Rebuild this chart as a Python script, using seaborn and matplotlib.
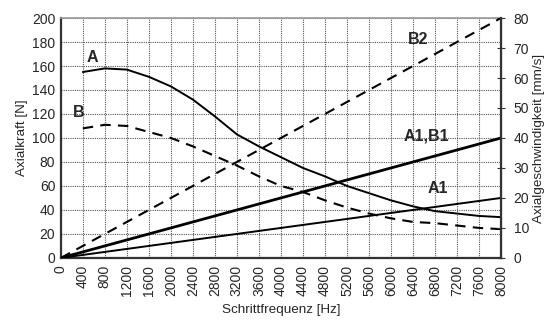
import matplotlib
matplotlib.use("Agg")
import matplotlib.pyplot as plt
import seaborn as sns
import numpy as np
import pandas as pd

sns.set_style("white")
plt.rcParams['font.family'] = ['Liberation Sans', 'DejaVu Sans']

# Daten
freq_ab = [400, 800, 1200, 1600, 2000, 2400, 2800, 3200, 3600, 4000,
           4400, 4800, 5200, 5600, 6000, 6400, 6800, 7200, 7600, 8000]
kraft_a = [155, 158, 157, 151, 143, 132, 118, 103, 93, 84,
           75, 68, 60, 54, 48, 43, 39, 37, 35, 34]
kraft_b = [108, 111, 110, 105, 100, 93, 85, 77, 68, 60,
           55, 48, 42, 37, 33, 30, 29, 27, 25, 24]
freq_lin = [0, 8000]
speed_a1b1 = [0, 40]
speed_a1 = [0, 20]
speed_b2 = [0, 80]

fig = plt.figure(figsize=(5.53, 3.22), dpi=100)
ax = fig.add_axes([0.110, 0.199, 0.796, 0.745])
ax2 = ax.twinx()

# Kraftkurven (linke Achse)
sns.lineplot(x=freq_ab, y=kraft_a, ax=ax, color="black", linewidth=1.4)
sns.lineplot(x=freq_ab, y=kraft_b, ax=ax, color="black", linewidth=1.5)
ax.lines[-1].set_dashes([5, 3.5])

# Geschwindigkeiten (rechte Achse)
sns.lineplot(x=freq_lin, y=speed_a1b1, ax=ax2, color="black", linewidth=2.0)
sns.lineplot(x=freq_lin, y=speed_a1, ax=ax2, color="black", linewidth=1.4)
sns.lineplot(x=freq_lin, y=speed_b2, ax=ax2, color="black", linewidth=1.5)
ax2.lines[-1].set_dashes([5, 3.5])

ax.set_xlim(0, 8000)
ax.set_ylim(0, 200)
ax2.set_ylim(0, 80)
ax.set_xticks(np.arange(0, 8001, 400))
ax.set_yticks(np.arange(0, 201, 20))
ax2.set_yticks(np.arange(0, 81, 10))
ax.tick_params(axis="x", labelrotation=90, labelsize=10, direction="out",
               length=3, width=0.8, color="#333333", pad=2)
ax.tick_params(axis="y", labelsize=10, length=0, pad=4)
ax2.tick_params(axis="y", labelsize=10, direction="inout", length=6,
                width=0.8, color="#333333", pad=6)

ax.grid(True, color="#555555", linestyle=(0, (1, 1)), linewidth=0.8)
ax2.grid(False)

for sp in ("left", "bottom"):
    ax.spines[sp].set_color("#333333")
    ax.spines[sp].set_linewidth(1.6)
ax.spines["top"].set_color("#999999")
ax.spines["top"].set_linewidth(1.2)
ax2.spines["right"].set_color("#333333")
ax2.spines["right"].set_linewidth(1.6)
for sp in ("left", "bottom", "top"):
    ax2.spines[sp].set_visible(False)

ax.set_xlabel("Schrittfrequenz [Hz]", fontsize=9.7, labelpad=6)
ax.set_ylabel("Axialkraft [N]", fontsize=9.7, labelpad=3)
ax2.set_ylabel("Axialgeschwindigkeit [mm/s]", fontsize=9.7, labelpad=3)

# Kurvenbeschriftungen
lab = dict(fontsize=11.5, fontweight="bold", ha="center", va="center")
ax.text(580, 167, "A", **lab)
ax.text(330, 121, "B", **lab)
ax2.text(6500, 72.7, "B2", **lab)
ax2.text(6650, 40.5, "A1,B1", **lab)
ax2.text(6850, 23.3, "A1", **lab)

plt.savefig("out.png", dpi=100)
plt.close()
